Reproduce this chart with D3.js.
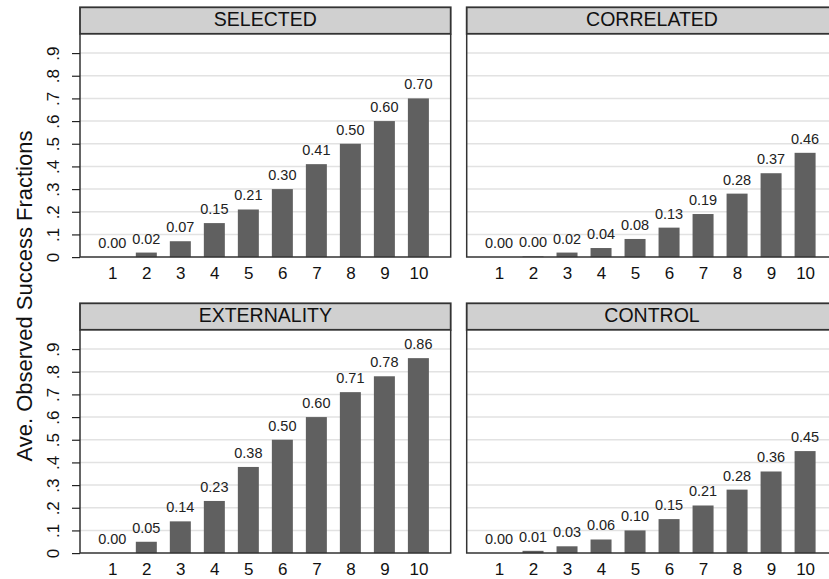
<!DOCTYPE html>
<html lang="en">
<head>
  <meta charset="UTF-8">
  <title>Ave. Observed Success Fractions</title>
  <script src="https://d3js.org/d3.v7.min.js"></script>
  <style>
    body { margin: 0; background: #fff; }
    svg { display: block; font-family: "Liberation Sans", Arial, sans-serif; }
    .grid line { stroke: #e2e2e2; stroke-width: 1.5; }
    .axis path, .axis line { stroke: #222; }
    .bar { fill: #606060; }
    .val { font-size: 14.5px; fill: #222; text-anchor: middle; }
    .strip-text { font-size: 19.5px; fill: #111; text-anchor: middle; }
  </style>
</head>
<body>
  <div id="chart"></div>

  <script>
    // data
    const panels = ["SELECTED", "CORRELATED", "EXTERNALITY", "CONTROL"];
    const categories = [1, 2, 3, 4, 5, 6, 7, 8, 9, 10];
    const selected    = [0.00, 0.02, 0.07, 0.15, 0.21, 0.30, 0.41, 0.50, 0.60, 0.70];
    const correlated  = [0.00, 0.003, 0.02, 0.04, 0.08, 0.13, 0.19, 0.28, 0.37, 0.46];
    const externality = [0.00, 0.05, 0.14, 0.23, 0.38, 0.50, 0.60, 0.71, 0.78, 0.86];
    const control     = [0.00, 0.01, 0.03, 0.06, 0.10, 0.15, 0.21, 0.28, 0.36, 0.45];
    const yTicks = [0, 0.1, 0.2, 0.3, 0.4, 0.5, 0.6, 0.7, 0.8, 0.9];
    const yTickLabels = ["0", ".1", ".2", ".3", ".4", ".5", ".6", ".7", ".8", ".9"];
    const yTitle = "Ave. Observed Success Fractions";

    const series = [selected, correlated, externality, control];

    const W = 829, H = 579;
    const svg = d3.select("#chart").append("svg")
      .attr("width", W)
      .attr("height", H);

    // panel layout
    const colX = [80, 466.7];
    const panelW = 370.7;
    const rowTop = [7.3, 303.3];
    const stripH = 26.5;
    const plotH = 223.3;

    const x = d3.scaleLinear().domain([0.05, 10.95]).range([0, panelW]);
    const y = d3.scaleLinear().domain([0, 0.985]).range([plotH, 0]);
    const barW = 21;

    panels.forEach((name, i) => {
      const col = i % 2, row = Math.floor(i / 2);
      const vals = series[i];
      const data = categories.map((c, k) => ({ c, v: vals[k] }));

      const g = svg.append("g")
        .attr("transform", `translate(${colX[col]}, ${rowTop[row] + stripH})`);

      // gridlines
      g.append("g").attr("class", "grid")
        .selectAll("line")
        .data(yTicks.slice(1))
        .join("line")
        .attr("x1", 0).attr("x2", panelW)
        .attr("y1", d => y(d)).attr("y2", d => y(d));

      // bars
      g.selectAll(".bar")
        .data(data)
        .join("rect")
        .attr("class", "bar")
        .attr("x", d => x(d.c) - barW / 2)
        .attr("width", barW)
        .attr("y", d => y(d.v))
        .attr("height", d => plotH - y(d.v));

      // value labels
      g.selectAll(".val")
        .data(data)
        .join("text")
        .attr("class", "val")
        .attr("x", d => x(d.c))
        .attr("y", d => y(d.v) - 9)
        .text(d => d3.format(".2f")(d.v));

      // panel frame (left, bottom, right)
      g.append("path")
        .attr("d", `M0,0V${plotH}H${panelW}V0`)
        .attr("fill", "none")
        .attr("stroke", "#333")
        .attr("stroke-width", 1.5);

      // x axis labels
      const xAxis = g.append("g")
        .attr("class", "axis")
        .attr("transform", `translate(0, ${plotH})`)
        .call(d3.axisBottom(x).tickValues(categories).tickSize(0).tickPadding(9.5))
        .attr("font-size", 17)
        .attr("font-family", null);
      xAxis.select(".domain").remove();
      xAxis.selectAll("text").attr("fill", "#111");

      // y axis on the left column
      if (col === 0) {
        const yAxis = g.append("g")
          .attr("class", "axis")
          .call(d3.axisLeft(y).tickValues(yTicks).tickSize(8).tickPadding(0)
            .tickFormat((d, k) => yTickLabels[k]))
          .attr("font-size", 17)
          .attr("font-family", null);
        yAxis.select(".domain").remove();
        yAxis.selectAll(".tick line").attr("stroke", "#333").attr("stroke-width", 1.2);
        yAxis.selectAll("text")
          .attr("fill", "#111")
          .attr("x", null).attr("dy", null)
          .attr("text-anchor", "middle")
          .attr("transform", "translate(-21,0) rotate(-90)");
      }

      // strip header
      const s = svg.append("g")
        .attr("transform", `translate(${colX[col]}, ${rowTop[row]})`);
      s.append("rect")
        .attr("width", panelW)
        .attr("height", stripH)
        .attr("fill", "#d0d0d0")
        .attr("stroke", "#333")
        .attr("stroke-width", 1.8);
      s.append("text")
        .attr("class", "strip-text")
        .attr("x", panelW / 2)
        .attr("y", 18.5)
        .text(name);
    });

    // shared y title
    svg.append("text")
      .attr("transform", `translate(32, 296) rotate(-90)`)
      .attr("text-anchor", "middle")
      .attr("font-size", 22)
      .attr("fill", "#111")
      .text(yTitle);
  </script>
</body>
</html>
